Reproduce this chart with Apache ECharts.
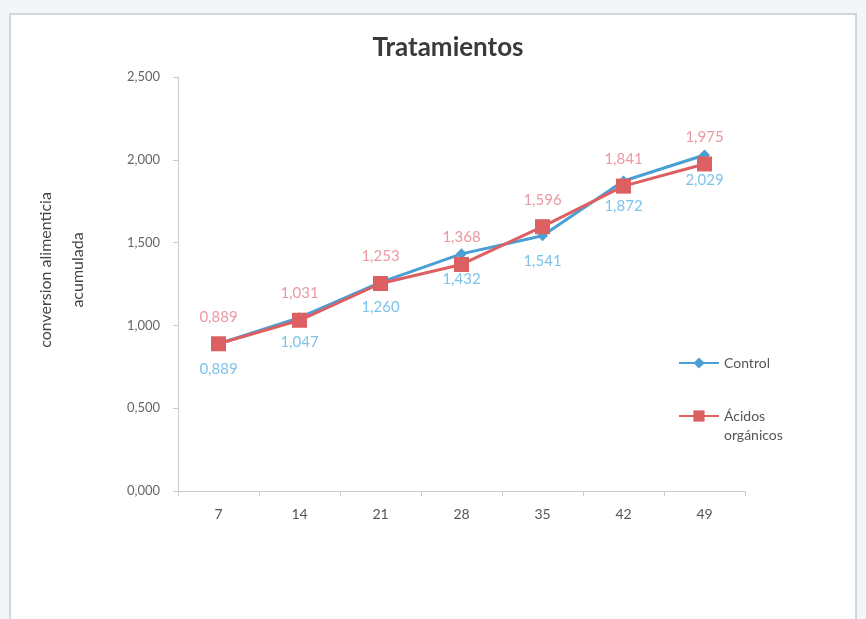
<!DOCTYPE html>
<html>
<head>
<meta charset="utf-8">
<script src="https://cdn.jsdelivr.net/npm/echarts@6/dist/echarts.min.js"></script>
<style>
html,body{margin:0;padding:0;background:#f3f6f9;}
#main{width:866px;height:619px;}
</style>
</head>
<body>
<div id="main"></div>
<script>
// dias
var dias = ['7', '14', '21', '28', '35', '42', '49'];
var control = [0.889, 1.047, 1.260, 1.432, 1.541, 1.872, 2.029];
var acidos = [0.889, 1.031, 1.253, 1.368, 1.596, 1.841, 1.975];

function coma(v){
	return v.toFixed(3).replace('.', ',');
}

var myChart = echarts.init(document.getElementById('main'));
var legendText = {fontSize: 14, color: '#555'};
var option = {
	backgroundColor: '#f3f6f9',
	textStyle: {fontFamily: 'Lato'},
	graphic: [{
		type: 'rect',
		shape: {x: 10, y: 14, width: 846, height: 620},
		style: {fill: '#ffffff', stroke: '#cfd6dd', lineWidth: 2},
		z: -10
	}, {
		type: 'text',
		left: 724,
		top: 428,
		style: {text: 'orgánicos', fill: '#555', font: '14px Lato'}
	}],
	title: {
		text: 'Tratamientos',
		left: 443,
		textAlign: 'center',
		top: 30,
		textStyle: {fontSize: 26, fontWeight: 'bold', color: '#3a3a3a', fontFamily: 'Lato'}
	},
	legend: [{
		left: 673,
		top: 351,
		itemWidth: 40,
		itemHeight: 14,
		textStyle: legendText,
		data: ['Control']
	}, {
		left: 673,
		top: 404,
		itemWidth: 40,
		itemHeight: 14,
		textStyle: legendText,
		formatter: function(){ return 'Ácidos'; },
		data: ['Ácidos orgánicos']
	}],
	grid: {left: 178, right: 121, top: 77, bottom: 128},
	xAxis: {
		type: 'category',
		data: dias,
		boundaryGap: true,
		axisLine: {lineStyle: {color: '#c8ccd2'}},
		axisTick: {show: true, inside: false, length: 5, lineStyle: {color: '#c8ccd2'}},
		axisLabel: {color: '#555', fontSize: 14, margin: 16}
	},
	yAxis: {
		type: 'value',
		min: 0,
		max: 2.5,
		interval: 0.5,
		name: 'conversion alimenticia\nacumulada',
		nameLocation: 'middle',
		nameGap: 84,
		nameTextStyle: {fontSize: 16, color: '#444', lineHeight: 32, padding: [0, 0, 0, 28]},
		axisLine: {show: true, lineStyle: {color: '#c8ccd2'}},
		axisTick: {show: true, length: 5, lineStyle: {color: '#c8ccd2'}},
		splitLine: {show: false},
		axisLabel: {
			color: '#666',
			fontSize: 13,
			margin: 18,
			formatter: function(v){ return coma(v); }
		}
	},
	series: [{
		name: 'Control',
		type: 'line',
		data: control,
		symbol: 'diamond',
		symbolSize: 11,
		color: '#4a9fd4',
		lineStyle: {width: 3, color: '#4a9fd4'},
		itemStyle: {color: '#4a9fd4'},
		label: {
			show: true,
			position: 'bottom',
			distance: 12,
			color: '#7cc3ea',
			fontSize: 15,
			formatter: function(p){ return coma(p.value); }
		},
		z: 2
	}, {
		name: 'Ácidos orgánicos',
		type: 'line',
		data: acidos,
		symbol: 'rect',
		symbolSize: 15,
		color: '#dc5f62',
		lineStyle: {width: 3, color: '#dc5f62'},
		itemStyle: {color: '#dc5f62'},
		label: {
			show: true,
			position: 'top',
			distance: 12,
			color: '#eb98a3',
			fontSize: 15,
			formatter: function(p){ return coma(p.value); }
		},
		z: 3
	}]
};
myChart.setOption(option, true);
</script>
</body>
</html>
